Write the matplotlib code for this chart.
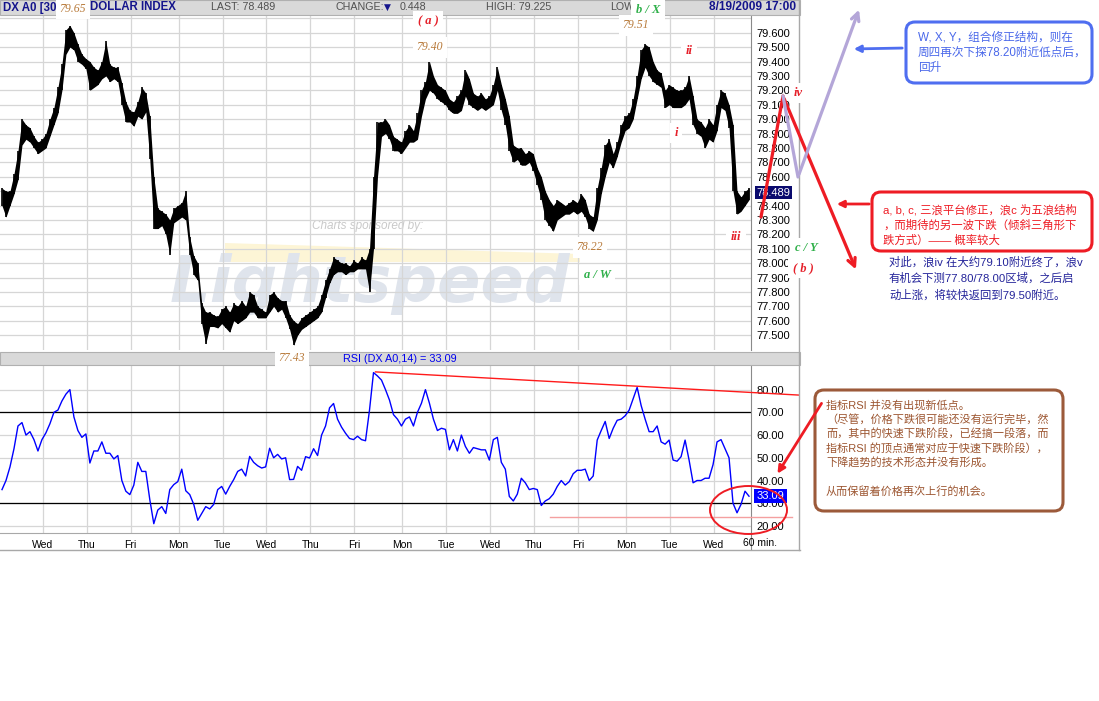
import numpy as np
import matplotlib.pyplot as plt
from matplotlib.patches import FancyBboxPatch, Rectangle, Ellipse, Polygon

plt.rcParams['font.family'] = ['Liberation Sans', 'Noto Sans CJK SC']

W, H = 1099, 701

# DX A0 30-min bars (one value every ~4 px)
price_hi = [78.52, 78.50, 78.50, 78.62, 78.78, 79.00, 78.96, 78.94, 78.88, 78.84,
            78.86, 78.90, 79.00, 79.08, 79.22, 79.38, 79.62, 79.65, 79.60, 79.52,
            79.45, 79.42, 79.40, 79.36, 79.34, 79.40, 79.54, 79.38, 79.36, 79.36,
            79.25, 79.12, 79.06, 79.05, 79.12, 79.22, 79.18, 79.02, 78.60, 78.38,
            78.36, 78.34, 78.30, 78.38, 78.40, 78.42, 78.50, 78.18, 78.05, 78.00,
            77.72, 77.66, 77.66, 77.64, 77.63, 77.68, 77.70, 77.66, 77.72, 77.70,
            77.74, 77.70, 77.80, 77.78, 77.70, 77.68, 77.66, 77.78, 77.80, 77.76,
            77.74, 77.74, 77.64, 77.60, 77.58, 77.62, 77.64, 77.66, 77.68, 77.70,
            77.78, 77.88, 77.96, 78.04, 78.02, 78.00, 78.00, 77.98, 78.02, 78.00,
            78.04, 78.02, 78.10, 78.60, 78.98, 78.98, 79.00, 78.96, 78.88, 78.86,
            78.84, 78.92, 78.96, 78.92, 79.04, 79.20, 79.26, 79.40, 79.30, 79.24,
            79.22, 79.20, 79.14, 79.12, 79.16, 79.20, 79.34, 79.28, 79.18, 79.16,
            79.18, 79.14, 79.16, 79.24, 79.36, 79.24, 79.14, 79.02, 78.82, 78.80,
            78.80, 78.76, 78.78, 78.76, 78.66, 78.60, 78.50, 78.44, 78.40, 78.44,
            78.42, 78.40, 78.42, 78.44, 78.42, 78.48, 78.44, 78.34, 78.32, 78.52,
            78.66, 78.82, 78.86, 78.76, 78.84, 78.96, 79.02, 79.04, 79.14, 79.30,
            79.48, 79.52, 79.50, 79.40, 79.34, 79.32, 79.20, 79.24, 79.22, 79.20,
            79.20, 79.22, 79.30, 79.16, 79.00, 78.98, 78.94, 79.00, 78.96, 79.10,
            79.20, 79.18, 79.10, 78.96, 78.50, 78.46, 78.50, 78.52]
price_lo = [78.40, 78.32, 78.40, 78.48, 78.58, 78.82, 78.86, 78.84, 78.80, 78.76,
            78.78, 78.80, 78.88, 78.96, 79.04, 79.20, 79.45, 79.50, 79.48, 79.40,
            79.38, 79.35, 79.20, 79.22, 79.24, 79.28, 79.30, 79.26, 79.28, 79.26,
            79.10, 78.98, 78.98, 78.95, 79.02, 79.00, 79.05, 78.72, 78.24, 78.24,
            78.26, 78.20, 78.06, 78.28, 78.30, 78.32, 78.30, 78.06, 77.92, 77.88,
            77.58, 77.44, 77.56, 77.56, 77.55, 77.58, 77.55, 77.52, 77.60, 77.58,
            77.60, 77.62, 77.66, 77.66, 77.62, 77.62, 77.62, 77.66, 77.70, 77.66,
            77.68, 77.62, 77.54, 77.43, 77.50, 77.54, 77.56, 77.58, 77.60, 77.62,
            77.66, 77.76, 77.86, 77.92, 77.94, 77.94, 77.92, 77.94, 77.94, 77.96,
            77.96, 77.96, 77.80, 78.10, 78.60, 78.88, 78.90, 78.86, 78.78, 78.78,
            78.76, 78.80, 78.84, 78.84, 78.86, 79.02, 79.14, 79.20, 79.18, 79.14,
            79.12, 79.10, 79.06, 79.04, 79.04, 79.06, 79.16, 79.10, 79.08, 79.06,
            79.08, 79.06, 79.08, 79.10, 79.20, 79.06, 78.96, 78.78, 78.70, 78.72,
            78.68, 78.68, 78.70, 78.64, 78.54, 78.44, 78.30, 78.26, 78.22, 78.30,
            78.32, 78.34, 78.34, 78.36, 78.34, 78.36, 78.32, 78.24, 78.22, 78.30,
            78.48, 78.60, 78.70, 78.66, 78.74, 78.84, 78.92, 78.94, 79.00, 79.14,
            79.28, 79.36, 79.30, 79.26, 79.24, 79.22, 79.08, 79.10, 79.08, 79.08,
            79.08, 79.10, 79.14, 78.96, 78.90, 78.88, 78.80, 78.86, 78.84, 78.92,
            79.08, 79.06, 78.94, 78.50, 78.34, 78.36, 78.40, 78.44]

# RSI(14) sampled at the same bars
rsi = [36.0, 40.0, 46.0, 54.0, 64.0, 65.5, 60.0, 61.5, 58.0, 53.0,
       58.0, 61.0, 65.0, 70.0, 71.0, 75.0, 78.0, 80.0, 68.0, 62.0,
       59.0, 60.5, 47.7, 53.0, 53.0, 57.0, 52.0, 52.0, 49.5, 51.0,
       40.0, 35.3, 33.8, 38.0, 48.0, 44.0, 44.0, 31.6, 21.0, 27.0,
       28.5, 25.5, 36.0, 38.2, 39.5, 45.0, 35.5, 33.8, 29.5, 22.5,
       25.5, 28.5, 27.5, 29.5, 36.0, 37.4, 34.0, 37.4, 40.4, 44.0,
       45.0, 42.0, 50.6, 48.0, 46.5, 45.5, 46.0, 54.2, 50.0, 51.5,
       49.5, 50.0, 40.4, 40.5, 46.2, 44.5, 50.5, 49.9, 54.0, 51.0,
       60.0, 64.0, 72.0, 73.9, 67.0, 63.5, 60.8, 58.5, 58.0, 59.5,
       58.0, 57.5, 71.0, 87.5, 86.0, 84.2, 80.0, 75.4, 69.0, 67.0,
       64.0, 67.0, 68.0, 64.0, 70.0, 74.0, 80.0, 74.0, 67.0, 62.0,
       63.0, 62.5, 53.5, 58.0, 53.0, 60.0, 55.0, 52.0, 54.5, 54.0,
       53.5, 53.5, 49.0, 58.0, 59.0, 48.0, 45.0, 33.0, 31.0, 34.0,
       41.0, 39.0, 36.0, 36.5, 36.0, 29.0, 31.0, 32.0, 34.0, 37.4,
       40.0, 38.0, 39.5, 43.0, 44.5, 44.5, 45.0, 40.0, 42.0, 57.8,
       62.0, 66.0, 58.5, 63.0, 66.5, 67.0, 68.5, 71.0, 76.0, 81.0,
       73.0, 67.0, 61.5, 61.5, 64.0, 57.0, 56.0, 57.8, 49.0, 48.5,
       50.5, 57.8, 49.0, 39.0, 40.0, 40.0, 41.0, 41.0, 47.0, 57.0,
       58.0, 54.0, 50.0, 30.0, 25.8, 29.5, 35.3, 33.09]

day_pos = [10.2, 21.2, 32.2, 44.2, 55.2, 66.2, 77.2, 88.2, 100.2, 111.2,
           122.2, 133.2, 144.2, 156.2, 167.2, 178.2]
day_lbl = ['Wed', 'Thu', 'Fri', 'Mon', 'Tue', 'Wed', 'Thu', 'Fri', 'Mon', 'Tue',
           'Wed', 'Thu', 'Fri', 'Mon', 'Tue', 'Wed']
price_ticks = [77.5, 77.6, 77.7, 77.8, 77.9, 78.0, 78.1, 78.2, 78.3, 78.4, 78.5,
               78.6, 78.7, 78.8, 78.9, 79.0, 79.1, 79.2, 79.3, 79.4, 79.5, 79.6]
rsi_ticks = [20, 30, 40, 50, 60, 70, 80]
last_price = 78.489
last_rsi = 33.09
rsi_trend_x = [93.5, 199.5]
rsi_trend_y = [87.8, 77.6]
rsi_floor = 24.0

GRID = '#d6d6d6'
NAVY = '#14148c'
BROWN_LBL = '#b87a3a'
RED = '#e5202a'
GREEN = '#2fb04a'


def fx(px):
    return px / W


def fy(py):
    return 1 - py / H


fig = plt.figure(figsize=(W / 100, H / 100), dpi=100)
fig.patch.set_facecolor('white')

ax = fig.add_axes([0, fy(350), fx(751), fy(15) - fy(350)])
ar = fig.add_axes([0, fy(533), fx(751), fy(366) - fy(533)])
ov = fig.add_axes([0, 0, 1, 1])
ov.set_xlim(0, W)
ov.set_ylim(H, 0)
ov.axis('off')
ov.patch.set_alpha(0)
ov.set_zorder(10)

x = np.arange(len(price_hi))

# ---- price panel ----
# watermark behind the bars
ax.text(fx(368), fy(226), 'Charts sponsored by:', transform=fig.transFigure,
        fontsize=8.5, style='italic', color='#c9c9c9', ha='center', va='center', zorder=0.5)
ax.add_patch(Polygon([[fx(225), fy(243)], [fx(580), fy(254)], [fx(580), fy(262)], [fx(225), fy(262)]],
                     closed=True, transform=fig.transFigure, fc='#fdf5d6', ec='none', zorder=0.4))
ax.text(fx(370), fy(284), 'Lightspeed', transform=fig.transFigure, fontsize=46,
        fontweight='bold', style='italic', family='DejaVu Sans', color='#dfe4ec',
        ha='center', va='center', zorder=0.5)

ax.fill_between(x, price_lo, price_hi, color='black', lw=0, zorder=3)
ax.vlines(x, price_lo, price_hi, color='black', lw=1.2, zorder=3)
ax.set_xlim(-0.5, 187.5)
ax.set_ylim(77.397, 79.723)
ax.set_yticks(price_ticks)
ax.set_yticklabels(['%.3f' % v for v in price_ticks])
ax.set_xticks(day_pos)
ax.set_xticklabels([])
ax.yaxis.tick_right()
ax.tick_params(length=0, labelsize=8, pad=4)
ax.grid(True, color=GRID, lw=0.9)
ax.axhline(79.7, color=GRID, lw=0.9, zorder=0)
ax.set_axisbelow(True)
for s in ['top', 'left', 'bottom']:
    ax.spines[s].set_visible(False)
ax.spines['right'].set_color('#8a8a8a')
ax.annotate('%.3f' % last_price, xy=(1.0, last_price), xycoords=('axes fraction', 'data'),
            xytext=(4, 0), textcoords='offset points', color='white', fontsize=8,
            va='center', ha='left', annotation_clip=False,
            bbox=dict(boxstyle='square,pad=0.15', fc='#0a0a6e', ec='none'))

# ---- RSI panel ----
ar.plot(x, rsi, color='#0000ff', lw=1.0, zorder=3)
ar.axhline(70, color='black', lw=0.9, zorder=2)
ar.axhline(30, color='black', lw=0.9, zorder=2)
ar.plot(rsi_trend_x, rsi_trend_y, color='#ff1a1a', lw=1.0, clip_on=False, zorder=4)
ar.plot([137.2, 197.7], [rsi_floor, rsi_floor], color='#f4a0a0', lw=1.0, clip_on=False, zorder=4)
ar.set_xlim(-0.5, 187.5)
ar.set_ylim(16.9, 90.4)
ar.set_yticks(rsi_ticks)
ar.set_yticklabels(['%.2f' % v for v in rsi_ticks])
ar.set_xticks(day_pos)
ar.set_xticklabels(day_lbl)
ar.yaxis.tick_right()
ar.tick_params(length=0, labelsize=8, pad=4)
ar.tick_params(axis='x', pad=5, labelsize=7.5)
ar.grid(True, color=GRID, lw=0.9)
ar.set_axisbelow(True)
for s in ['top', 'left']:
    ar.spines[s].set_visible(False)
ar.spines['right'].set_color('#8a8a8a')
ar.spines['bottom'].set_color('#a8a8a8')
ar.annotate('%.2f' % last_rsi, xy=(1.0, last_rsi), xycoords=('axes fraction', 'data'),
            xytext=(4, 0), textcoords='offset points', color='white', fontsize=8,
            va='center', ha='left', annotation_clip=False,
            bbox=dict(boxstyle='square,pad=0.2', fc='#0000ff', ec='none'))

# ---- chart chrome ----
ov.add_patch(Rectangle((0, 0), 800, 14.5, fc='#d9d9d9', ec='#b0b0b0', lw=0.8, zorder=1))
ov.add_patch(Rectangle((0, 352), 800, 13, fc='#d9d9d9', ec='#b0b0b0', lw=0.8, zorder=1))
ov.plot([799, 799], [0, 550], color='#a8a8a8', lw=1.0, zorder=1)
ov.plot([0, 800], [549.5, 549.5], color='#a8a8a8', lw=1.0, zorder=1)
ov.plot([751, 751], [533, 549], color='#8a8a8a', lw=0.8, zorder=1)

ov.text(3, 7.5, 'DX A0 [30', color=NAVY, fontsize=8.3, fontweight='bold', va='center', zorder=2)
ov.text(90, 7.5, 'DOLLAR INDEX', color=NAVY, fontsize=8.3, fontweight='bold', va='center', zorder=2)
ov.text(211, 7.5, 'LAST: 78.489', color='#505050', fontsize=7.7, va='center', zorder=2)
ov.text(336, 7.5, 'CHANGE:', color='#505050', fontsize=7.7, va='center', zorder=2)
ov.text(384, 7.5, '▼', color=NAVY, fontsize=6.5, family='DejaVu Sans', va='center', zorder=2)
ov.text(400, 7.5, '0.448', color='#505050', fontsize=7.7, va='center', zorder=2)
ov.text(486, 7.5, 'HIGH: 79.225', color='#505050', fontsize=7.7, va='center', zorder=2)
ov.text(610, 7.5, 'LOW', color='#505050', fontsize=7.7, va='center', zorder=2)
ov.text(796, 7.5, '8/19/2009 17:00', color=NAVY, fontsize=8.6, fontweight='bold',
        va='center', ha='right', zorder=2)
ov.text(343, 358.5, 'RSI (DX A0,14) = 33.09', color='#0000ee', fontsize=7.8, va='center', zorder=2)
ov.text(760, 543, '60 min.', color='black', fontsize=7.5, ha='center', va='center', zorder=2)

# ---- wave labels ----
labels = [('79.65', 73, 8.5, BROWN_LBL), ('( a )', 428, 21.5, RED), ('79.40', 430, 47.5, BROWN_LBL),
          ('b / X', 648, 10, GREEN), ('79.51', 636, 25.5, BROWN_LBL), ('ii', 689, 51, RED),
          ('i', 676, 133, RED), ('iii', 736, 237, RED), ('78.22', 590, 247.5, BROWN_LBL),
          ('a / W', 597, 275, GREEN), ('c / Y', 806, 248, GREEN), ('( b )', 803, 268, RED),
          ('iv', 798, 93, RED), ('77.43', 292, 358, BROWN_LBL)]
for s, lx, ly, c in labels:
    bold = c != BROWN_LBL
    ov.text(lx, ly, s, color=c, fontsize=9 if bold else 8.5, family='Liberation Serif',
            style='italic', fontweight='bold' if bold else 'normal', ha='center', va='center',
            zorder=3, bbox=dict(boxstyle='square,pad=0.35', fc='white', ec='none'))

# ---- hand-drawn wave paths ----
ov.plot([761, 783], [217, 96], color='#ee1c24', lw=2.3, zorder=4, solid_capstyle='round')
ov.annotate('', xy=(857, 272), xytext=(783, 96), zorder=4,
            arrowprops=dict(arrowstyle='->', color='#ee1c24', lw=2.3, mutation_scale=14))
ov.plot([783, 798], [96, 177], color='#b4a6d8', lw=2.3, zorder=4, solid_capstyle='round')
ov.annotate('', xy=(860, 7), xytext=(798, 177), zorder=4,
            arrowprops=dict(arrowstyle='->', color='#b4a6d8', lw=2.3, mutation_scale=14))

# ---- comment boxes ----
ov.add_patch(FancyBboxPatch((906, 22), 186, 61, boxstyle='round,pad=0,rounding_size=9',
                            fc='white', ec='#4f6ef0', lw=2.2, zorder=4))
ov.annotate('', xy=(851, 49), xytext=(905, 48), zorder=4,
            arrowprops=dict(arrowstyle='-|>', color='#4f6ef0', lw=2, mutation_scale=10))
blue_lines = ['W, X, Y，组合修正结构，则在', '周四再次下探78.20附近低点后，', '回升']
for k, s in enumerate(blue_lines):
    ov.text(918, 37 + 15.5 * k, s, color='#4a68ea', fontsize=8.4, va='center', zorder=5)

ov.add_patch(FancyBboxPatch((872, 192), 220, 59, boxstyle='round,pad=0,rounding_size=9',
                            fc='white', ec='#ee1c24', lw=2.2, zorder=4))
ov.annotate('', xy=(834, 204), xytext=(872, 204), zorder=4,
            arrowprops=dict(arrowstyle='-|>', color='#ee1c24', lw=2, mutation_scale=10))
red_lines = ['a, b, c, 三浪平台修正，浪c 为五浪结构', '，而期待的另一波下跌（倾斜三角形下', '跌方式）—— 概率较大']
for k, s in enumerate(red_lines):
    ov.text(883, 210 + 15 * k, s, color='#ee1c24', fontsize=8.2, va='center', zorder=5)

navy_lines = ['对此，浪iv 在大约79.10附近终了，浪v', '有机会下测77.80/78.00区域，之后启',
              '动上涨，将较快返回到79.50附近。']
for k, s in enumerate(navy_lines):
    ov.text(889, 262 + 16.5 * k, s, color='#24249a', fontsize=8.2, va='center', zorder=5)

ov.add_patch(FancyBboxPatch((815, 390), 248, 121, boxstyle='round,pad=0,rounding_size=9',
                            fc='white', ec='#9c5a3a', lw=2.2, zorder=4))
brown_lines = ['指标RSI 并没有出现新低点。', '（尽管，价格下跌很可能还没有运行完毕，然',
               '而，其中的快速下跌阶段，已经搞一段落，而', '指标RSI 的顶点通常对应于快速下跌阶段），',
               '下降趋势的技术形态并没有形成。', '', '从而保留着价格再次上行的机会。']
for k, s in enumerate(brown_lines):
    ov.text(826, 405 + 14.4 * k, s, color='#9c5530', fontsize=8.0, va='center', zorder=5)
ov.annotate('', xy=(776, 476), xytext=(823, 401), zorder=6,
            arrowprops=dict(arrowstyle='-|>', color='#ee1c24', lw=2, mutation_scale=11))

ov.add_patch(Ellipse((748.5, 510), 77, 48, fill=False, ec='#ee1c24', lw=1.4, zorder=6))

fig.savefig('out.png', dpi=100)
